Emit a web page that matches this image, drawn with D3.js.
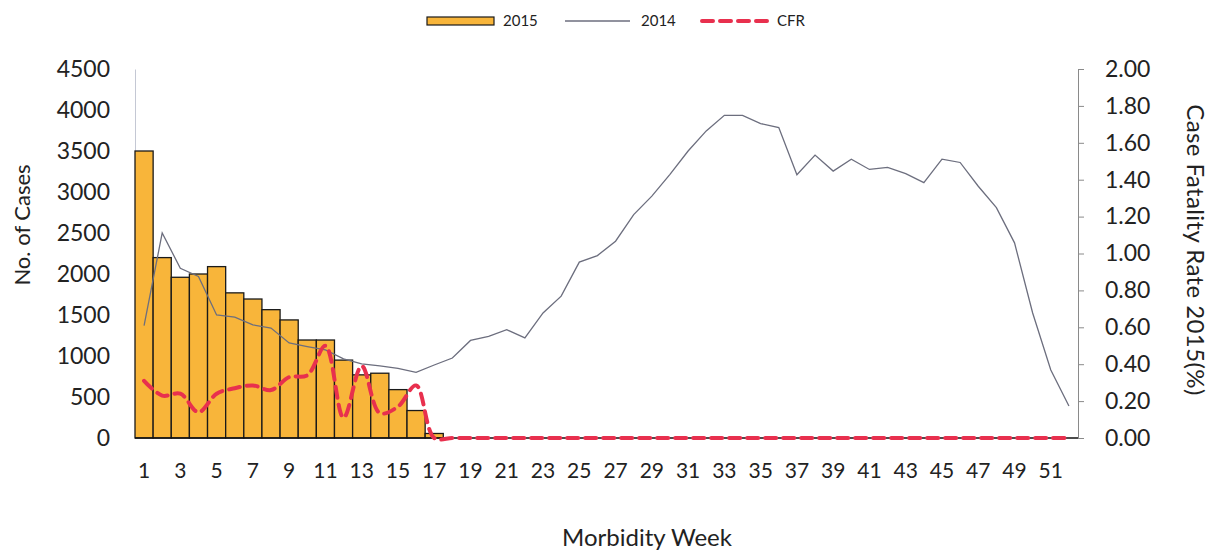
<!DOCTYPE html>
<html>
<head>
<meta charset="utf-8">
<script src="https://cdn.jsdelivr.net/npm/d3@7"></script>
<style>
  html, body { margin: 0; padding: 0; background: #fff; }
  svg { display: block; }
  text { font-family: Lato, "Open Sans", sans-serif; fill: #222; }
</style>
</head>
<body>
<svg id="chart" width="1214" height="550"></svg>
<script>
// ---- data ----
const weeks = [1,2,3,4,5,6,7,8,9,10,11,12,13,14,15,16,17,18,19,20,21,22,23,24,25,26,
               27,28,29,30,31,32,33,34,35,36,37,38,39,40,41,42,43,44,45,46,47,48,49,50,51,52];
const xTickLabels = [1,3,5,7,9,11,13,15,17,19,21,23,25,27,29,31,33,35,37,39,41,43,45,47,49,51];
const leftTickLabels = [0,500,1000,1500,2000,2500,3000,3500,4000,4500];
const rightTickLabels = [0,0.2,0.4,0.6,0.8,1.0,1.2,1.4,1.6,1.8,2.0];

// 2015 cases (weeks 1-17)
const cases2015 = [3500,2200,1960,2000,2090,1770,1695,1565,1440,1195,1195,950,770,790,590,335,55];
// 2014 cases (weeks 1-52)
const cases2014 = [1370,2500,2070,1970,1500,1475,1380,1340,1160,1115,1075,965,905,880,850,800,
                   890,975,1190,1240,1320,1220,1525,1730,2145,2225,2400,2725,2950,3215,3500,3745,
                   3935,3935,3835,3785,3210,3450,3255,3400,3275,3300,3225,3115,3400,3360,3070,2810,
                   2380,1525,830,390];
// CFR 2015 (%)
const cfr = [0.31,0.23,0.24,0.14,0.24,0.27,0.285,0.26,0.33,0.34,0.50,0.11,0.39,0.135,0.17,0.285,
             0,0,0,0,0,0,0,0,0,0,0,0,0,0,0,0,0,0,0,0,0,0,0,0,0,0,0,0,0,0,0,0,0,0,0,0];

const legendLabels = ["2015", "2014", "CFR"];

// ---- layout ----
const svg = d3.select("#chart");
const plotLeft = 135, plotRight = 1078, plotTop = 69, plotBottom = 438;
const barColor = "#f8b53a", line2014Color = "#6c6e7e", cfrColor = "#e8304e";

const x = d3.scaleBand().domain(weeks).range([plotLeft, plotRight]).padding(0);
const yL = d3.scaleLinear().domain([0, 4500]).range([plotBottom, plotTop]);
const yR = d3.scaleLinear().domain([0, 2]).range([plotBottom, plotTop]);

// left axis
const gL = svg.append("g").attr("transform", `translate(${plotLeft},0)`)
  .call(d3.axisLeft(yL).tickValues(leftTickLabels).tickFormat(d3.format("d"))
        .tickSize(0).tickSizeOuter(0).tickPadding(25));
gL.select(".domain").attr("stroke", "#c4c8d4").attr("stroke-width", 1);
gL.selectAll("text").style("font-size", "23px").style("font-family", "Lato").attr("fill", "#222");

// right axis
const gR = svg.append("g").attr("transform", `translate(${plotRight},0)`)
  .call(d3.axisRight(yR).tickValues(rightTickLabels).tickFormat(d3.format(".2f")).tickSize(6).tickSizeOuter(0).tickPadding(21));
gR.select(".domain").attr("stroke", "#8a8a8a").attr("stroke-width", 1);
gR.selectAll("line").attr("stroke", "#8a8a8a");
gR.selectAll("text").style("font-size", "23px").style("font-family", "Lato").attr("fill", "#222");

// bottom axis labels
const gB = svg.append("g").attr("transform", `translate(0,${plotBottom})`)
  .call(d3.axisBottom(x).tickValues(xTickLabels).tickSize(0).tickPadding(25));
gB.select(".domain").remove();
gB.selectAll("text").style("font-size", "21px").style("font-family", "Lato").attr("fill", "#222");

// bars 2015
svg.append("g").selectAll("rect").data(cases2015).join("rect")
  .attr("x", (d, i) => x(weeks[i]))
  .attr("y", d => yL(d))
  .attr("width", x.bandwidth())
  .attr("height", d => yL(0) - yL(d))
  .attr("fill", barColor)
  .attr("stroke", "#1a1a1a")
  .attr("stroke-width", 1.3);

// baseline
svg.append("line").attr("x1", plotLeft).attr("x2", plotRight)
  .attr("y1", yL(0)).attr("y2", yL(0)).attr("stroke", "#111").attr("stroke-width", 1.3);

// 2014 line
const line2014 = d3.line().x((d, i) => x(weeks[i]) + x.bandwidth() / 2).y(d => yL(d));
svg.append("path").datum(cases2014).attr("d", line2014)
  .attr("fill", "none").attr("stroke", line2014Color).attr("stroke-width", 1.3);

// CFR line
const lineCfr = d3.line().x((d, i) => x(weeks[i]) + x.bandwidth() / 2).y(d => yR(d))
  .curve(d3.curveCatmullRom.alpha(0.5));
svg.append("path").datum(cfr).attr("d", lineCfr)
  .attr("fill", "none").attr("stroke", cfrColor).attr("stroke-width", 4)
  .attr("stroke-dasharray", "11,7").attr("stroke-linecap", "round");

// axis titles
svg.append("text").attr("transform", "translate(22,225) rotate(-90)")
  .attr("text-anchor", "middle").attr("dy", "0.35em")
  .style("font-size", "22px").text("No. of Cases");
svg.append("text").attr("transform", "translate(1195,250) rotate(90)")
  .attr("text-anchor", "middle").attr("dy", "0.35em")
  .style("font-size", "24px").style("letter-spacing", "0.4px").text("Case Fatality Rate 2015(%)");
svg.append("text").attr("x", 647).attr("y", 538)
  .attr("text-anchor", "middle").attr("dy", "0.35em")
  .style("font-size", "24px").text("Morbidity Week");

// legend
const lg = svg.append("g").attr("class", "legend");
lg.append("rect").attr("x", 427).attr("y", 17).attr("width", 67).attr("height", 8)
  .attr("fill", barColor).attr("stroke", "#1a1a1a").attr("stroke-width", 1.2);
lg.append("text").attr("x", 503).attr("y", 21).attr("dy", "0.35em").style("font-size", "15px").text(legendLabels[0]);
lg.append("line").attr("x1", 565).attr("x2", 630).attr("y1", 21).attr("y2", 21)
  .attr("stroke", line2014Color).attr("stroke-width", 1.3);
lg.append("text").attr("x", 641).attr("y", 21).attr("dy", "0.35em").style("font-size", "15px").text(legendLabels[1]);
lg.append("line").attr("x1", 702).attr("x2", 772).attr("y1", 21).attr("y2", 21)
  .attr("stroke", cfrColor).attr("stroke-width", 4).attr("stroke-dasharray", "11,7").attr("stroke-linecap", "round");
lg.append("text").attr("x", 777).attr("y", 21).attr("dy", "0.35em").style("font-size", "15px").text(legendLabels[2]);
</script>
</body>
</html>
